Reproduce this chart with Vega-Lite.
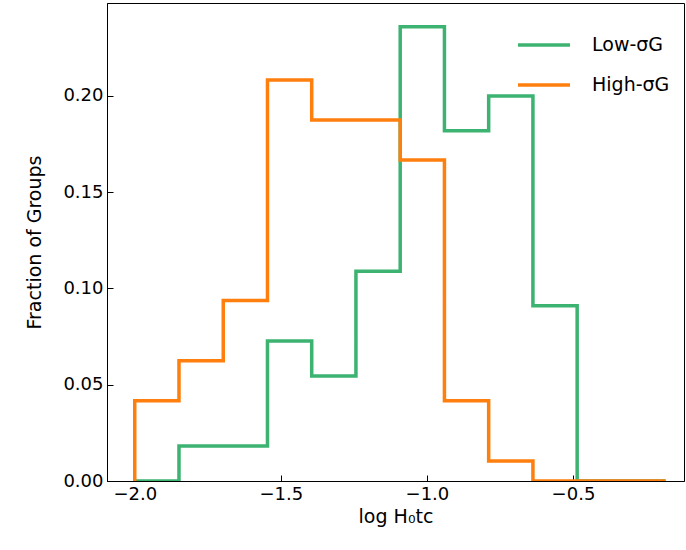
{
  "$schema": "https://vega.github.io/schema/vega-lite/v6.json",
  "width": 577,
  "height": 478,
  "autosize": "none",
  "padding": {"left": 107, "top": 3, "right": 2, "bottom": 69},
  "config": {
    "view": {"stroke": "black", "strokeWidth": 1},
    "font": "DejaVu Sans",
    "axis": {"labelFontSize": 18, "titleFontSize": 19, "titleFontWeight": "normal", "labelColor": "black", "titleColor": "black", "domainColor": "black", "tickColor": "black", "tickSize": -6, "labelPadding": 10, "grid": false}
  },
  "data": {"values": [
    {"g":"Low-σG","o":0,"x":-2.0,"v":0},
    {"g":"Low-σG","o":1,"x":-2.0,"v":0},
    {"g":"Low-σG","o":2,"x":-1.8486,"v":0.0182},
    {"g":"Low-σG","o":3,"x":-1.6971,"v":0.0182},
    {"g":"Low-σG","o":4,"x":-1.5457,"v":0.0727},
    {"g":"Low-σG","o":5,"x":-1.3943,"v":0.0545},
    {"g":"Low-σG","o":6,"x":-1.2429,"v":0.109},
    {"g":"Low-σG","o":7,"x":-1.0914,"v":0.236},
    {"g":"Low-σG","o":8,"x":-0.94,"v":0.182},
    {"g":"Low-σG","o":9,"x":-0.7886,"v":0.2},
    {"g":"Low-σG","o":10,"x":-0.6371,"v":0.091},
    {"g":"Low-σG","o":11,"x":-0.4857,"v":0},
    {"g":"Low-σG","o":12,"x":-0.3343,"v":0},
    {"g":"Low-σG","o":13,"x":-0.1829,"v":0},
    {"g":"High-σG","o":0,"x":-2.0,"v":0},
    {"g":"High-σG","o":1,"x":-2.0,"v":0.0417},
    {"g":"High-σG","o":2,"x":-1.8486,"v":0.0625},
    {"g":"High-σG","o":3,"x":-1.6971,"v":0.0938},
    {"g":"High-σG","o":4,"x":-1.5457,"v":0.2083},
    {"g":"High-σG","o":5,"x":-1.3943,"v":0.1875},
    {"g":"High-σG","o":6,"x":-1.2429,"v":0.1875},
    {"g":"High-σG","o":7,"x":-1.0914,"v":0.1667},
    {"g":"High-σG","o":8,"x":-0.94,"v":0.0417},
    {"g":"High-σG","o":9,"x":-0.7886,"v":0.0104},
    {"g":"High-σG","o":10,"x":-0.6371,"v":0},
    {"g":"High-σG","o":11,"x":-0.4857,"v":0},
    {"g":"High-σG","o":12,"x":-0.3343,"v":0},
    {"g":"High-σG","o":13,"x":-0.1829,"v":0}
  ]},
  "mark": {"type": "line", "interpolate": "step-after", "strokeWidth": 3.5, "clip": true},
  "encoding": {
    "x": {"field": "x", "type": "quantitative", "scale": {"domain": [-2.095, -0.12], "nice": false, "zero": false},
      "axis": {"values": [-2.0, -1.5, -1.0, -0.5], "format": ".1f", "title": "log H₀tc"}},
    "y": {"field": "v", "type": "quantitative", "scale": {"domain": [0, 0.2483], "nice": false},
      "axis": {"values": [0, 0.05, 0.1, 0.15, 0.2], "format": ".2f", "title": "Fraction of Groups", "titlePadding": 18}},
    "order": {"field": "o"},
    "color": {"field": "g", "type": "nominal", "sort": ["Low-σG", "High-σG"],
      "scale": {"domain": ["Low-σG", "High-σG"], "range": ["#3cb371", "#ff7f0e"]},
      "legend": {"title": null, "orient": "top-right", "symbolType": "stroke", "symbolSize": 2700, "symbolStrokeWidth": 3.5, "labelFontSize": 19, "labelColor": "black", "rowPadding": 2, "labelOffset": 20, "offset": 14}}
  }
}
